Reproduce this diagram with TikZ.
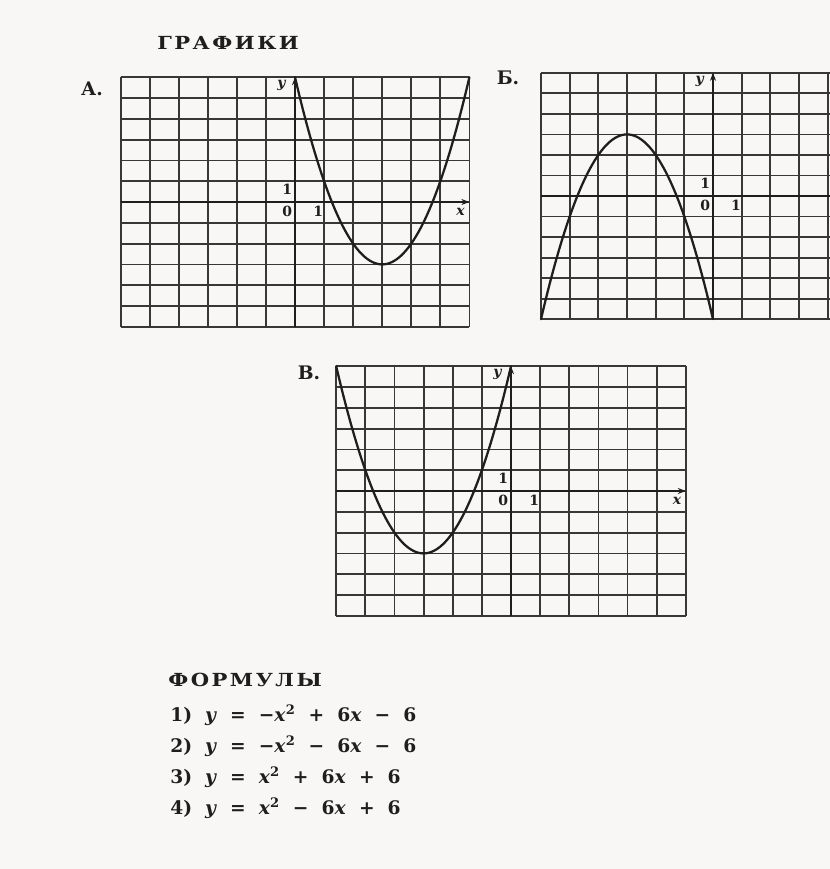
\documentclass[tikz,border=0pt]{standalone}
\usepackage{fontspec}
\setmainfont{DejaVu Serif}
\usetikzlibrary{arrows.meta}

\definecolor{paper}{RGB}{248,247,245}
\definecolor{ink}{RGB}{30,30,30}
\definecolor{gridink}{RGB}{55,55,55}

\tikzset{
  gridline/.style={gridink, line width=1.35pt},
  axis/.style={ink, line width=1.5pt, -{Stealth[length=6pt,width=4.5pt]}},
  curve/.style={ink, line width=1.7pt, line cap=round},
  lbl/.style={font=\bfseries\fontsize{10.5}{12}\selectfont, text=ink, inner sep=0pt},
  heading/.style={font=\bfseries\fontsize{13.5}{15}\selectfont\addfontfeature{LetterSpace=12},
                  text=ink, inner sep=0pt, anchor=west},
  letter/.style={font=\bfseries\fontsize{14}{16}\selectfont, text=ink, inner sep=0pt},
  formula/.style={font=\bfseries\fontsize{14}{16}\selectfont, text=ink, inner sep=0pt, anchor=west}
}

% grid 12x12 with axes and unit labels, #1 = name prefix
\newcommand{\coordgrid}[1]{%
  \foreach \i in {-6,...,6} {
    \draw[gridline] (\i,-6) -- (\i,6);
    \draw[gridline] (-6,\i) -- (6,\i);
  }
  \draw[axis] (0,-6) -- (0,6);
  \draw[axis] (-6,0) -- (6,0);
  \node[lbl] (#1-y) at (-0.45,5.6) {\textit{y}};
  \node[lbl] (#1-one) at (-0.27,0.6) {1};
  \node[lbl] (#1-zero) at (-0.27,-0.45) {0};
  \node[lbl] (#1-unit) at (0.8,-0.45) {1};
}
\newcommand{\sep}{\hspace{0.7em}}
\newcommand{\wide}[1]{\scalebox{1.17}[1]{#1}}

\begin{document}
\begin{tikzpicture}[x=0.75pt, y=-0.75pt]
\fill[paper] (0,0) rectangle (830,869);
\clip (0,0) rectangle (830,869);

\node[heading] (graphs) at (157,43) {\wide{ГРАФИКИ}};

% graph A
\node[letter] (labA) at (92,89) {А.};
\begin{scope}[shift={(295,202)}, x=21.8pt, y=15.6pt]
  \coordgrid{A}
  \node[lbl] (A-x) at (5.7,-0.45) {\textit{x}};
  \draw[curve] plot[domain=0:6, samples=80] (\x, {\x*\x-6*\x+6});
\end{scope}

% graph B (Б)
\node[letter] (labB) at (508,78) {Б.};
\begin{scope}[shift={(713,196)}, x=21.5pt, y=15.4pt]
  \coordgrid{B}
  \draw[curve] plot[domain=-6:0, samples=80] (\x, {-\x*\x-6*\x-6});
\end{scope}

% graph V (В)
\node[letter] (labV) at (309,373) {В.};
\begin{scope}[shift={(511,491)}, x=21.85pt, y=15.6pt]
  \coordgrid{V}
  \node[lbl] (V-x) at (5.7,-0.45) {\textit{x}};
  \draw[curve] plot[domain=-6:0, samples=80] (\x, {\x*\x+6*\x+6});
\end{scope}

% formulas
\node[heading] (formulas) at (168,680) {\wide{ФОРМУЛЫ}};
\node[formula] (f1) at (170,715) {1)\sep\textit{y}\sep=\sep−\textit{x}\textsuperscript{2}\sep+\sep6\textit{x}\sep−\sep6};
\node[formula] (f2) at (170,746) {2)\sep\textit{y}\sep=\sep−\textit{x}\textsuperscript{2}\sep−\sep6\textit{x}\sep−\sep6};
\node[formula] (f3) at (170,777) {3)\sep\textit{y}\sep=\sep\textit{x}\textsuperscript{2}\sep+\sep6\textit{x}\sep+\sep6};
\node[formula] (f4) at (170,808) {4)\sep\textit{y}\sep=\sep\textit{x}\textsuperscript{2}\sep−\sep6\textit{x}\sep+\sep6};
\end{tikzpicture}
\end{document}
